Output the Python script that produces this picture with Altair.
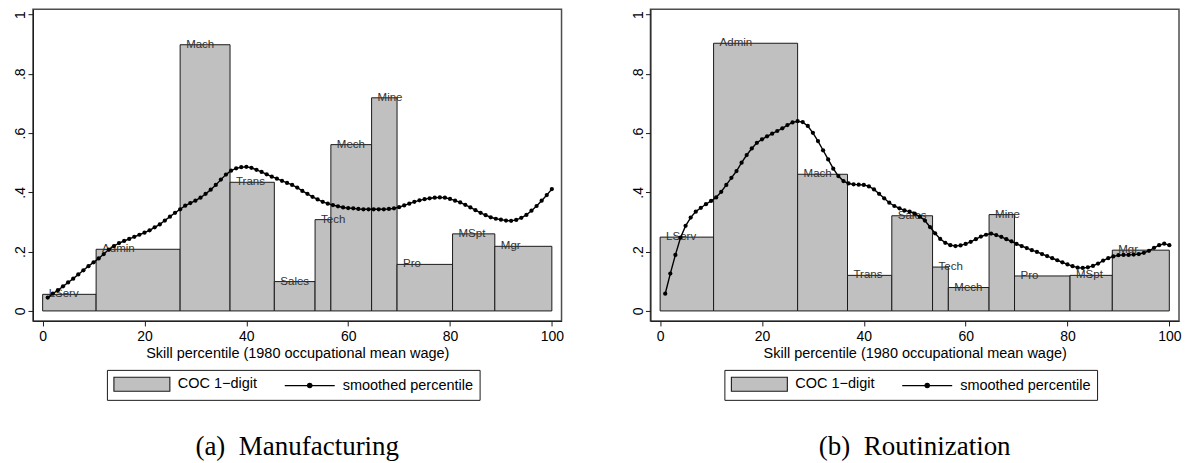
import altair as alt
import pandas as pd

# ---------------- data ----------------
occupations = ["LServ", "Admin", "Mach", "Trans", "Sales", "Tech", "Mech", "Mine", "Pro", "MSpt", "Mgr"]
bin_start = [0.0, 10.5, 27.0, 36.8, 45.5, 53.5, 56.6, 64.6, 69.6, 80.5, 88.8]
bin_end = [10.5, 27.0, 36.8, 45.5, 53.5, 56.6, 64.6, 69.6, 80.5, 88.8, 100.0]
manuf_share = [0.056, 0.208, 0.898, 0.434, 0.099, 0.308, 0.561, 0.719, 0.157, 0.260, 0.218]
routin_share = [0.249, 0.903, 0.461, 0.120, 0.321, 0.148, 0.079, 0.325, 0.118, 0.120, 0.205]

percentile = list(range(1, 101))
manuf_smooth = [
    0.045, 0.058, 0.070, 0.083, 0.096, 0.109, 0.123, 0.137, 0.151, 0.164,
    0.177, 0.192, 0.207, 0.219, 0.229, 0.236, 0.243, 0.250, 0.257, 0.264,
    0.272, 0.282, 0.292, 0.305, 0.318, 0.331, 0.343, 0.355, 0.364, 0.372,
    0.382, 0.395, 0.409, 0.425, 0.443, 0.460, 0.473, 0.481, 0.485, 0.486,
    0.483, 0.476, 0.469, 0.461, 0.453, 0.446, 0.439, 0.432, 0.425, 0.416,
    0.405, 0.395, 0.385, 0.376, 0.368, 0.362, 0.357, 0.353, 0.349, 0.347,
    0.346, 0.344, 0.343, 0.343, 0.343, 0.343, 0.343, 0.344, 0.346, 0.350,
    0.356, 0.362, 0.368, 0.373, 0.377, 0.380, 0.382, 0.383, 0.382, 0.378,
    0.372, 0.366, 0.358, 0.349, 0.340, 0.331, 0.323, 0.316, 0.311, 0.308,
    0.305, 0.304, 0.307, 0.314, 0.324, 0.338, 0.354, 0.372, 0.391, 0.411,
]
routin_smooth = [
    0.058, 0.126, 0.189, 0.247, 0.287, 0.315, 0.335, 0.348, 0.360, 0.371,
    0.383, 0.402, 0.425, 0.449, 0.472, 0.500, 0.526, 0.548, 0.567, 0.579,
    0.589, 0.598, 0.607, 0.616, 0.627, 0.636, 0.640, 0.637, 0.624, 0.601,
    0.573, 0.542, 0.511, 0.480, 0.455, 0.438, 0.430, 0.427, 0.426, 0.425,
    0.420, 0.410, 0.395, 0.380, 0.365, 0.354, 0.346, 0.339, 0.335, 0.328,
    0.318, 0.305, 0.283, 0.262, 0.243, 0.230, 0.222, 0.219, 0.221, 0.226,
    0.233, 0.242, 0.251, 0.257, 0.261, 0.256, 0.250, 0.242, 0.235, 0.226,
    0.219, 0.212, 0.205, 0.199, 0.192, 0.185, 0.178, 0.171, 0.164, 0.157,
    0.151, 0.146, 0.145, 0.147, 0.152, 0.160, 0.170, 0.178, 0.184, 0.188,
    0.189, 0.189, 0.190, 0.192, 0.196, 0.203, 0.213, 0.222, 0.227, 0.222,
]

x_ticks = [0, 20, 40, 60, 80, 100]
y_ticks = [0, 0.2, 0.4, 0.6, 0.8, 1.0]
series = ["COC 1\u2212digit", "smoothed percentile"]
x_title = "Skill percentile (1980 occupational mean wage)"
captions = ["(a)\u2002Manufacturing", "(b)\u2002Routinization"]

# ---------------- styling ----------------
SANS = "Liberation Sans"
SERIF = "Liberation Serif"
BAR_FILL = "#c0c0c0"
INK = "#1a1a1a"

# legend key symbols (custom paths, unit = 7 px for size 196)
rect_path = "M-1,-1H7V1H-1Z"
line_path = ("M-0.143,0H7"
             "M3.743,0A0.314,0.314,0,1,1,3.114,0A0.314,0.314,0,1,1,3.743,0Z")

W, H = 529, 312


def panel(shares, smooth, caption):
    bars_df = pd.DataFrame({"occ": occupations, "start": bin_start,
                            "end": bin_end, "share": shares})
    line_df = pd.DataFrame({"pct": percentile, "val": smooth})
    key_df = pd.DataFrame({"series": series})

    xs = alt.Scale(domain=[-1.9, 101.9], nice=False, zero=False)
    ys = alt.Scale(domain=[-0.0337, 1.0179], nice=False, zero=False)

    xaxis = alt.Axis(values=x_ticks, title=x_title, grid=False, tickSize=5,
                     labelPadding=4, titlePadding=3, labelFontSize=14,
                     titleFontSize=14.5, labelFlush=False)
    yaxis = alt.Axis(values=y_ticks, title=None, grid=False, tickSize=5,
                     labelAngle=270, labelAlign="center",
                     labelBaseline="alphabetic", labelPadding=3,
                     labelFontSize=14,
                     labelExpr="datum.value == 0 ? '0' : (datum.value == 1 ? '1' : replace(format(datum.value, '.1f'), '0.', '.'))")

    bars = alt.Chart(bars_df).mark_rect(
        fill=BAR_FILL, stroke=INK, strokeWidth=1
    ).encode(
        x=alt.X("start:Q", scale=xs, axis=xaxis),
        x2="end:Q",
        y=alt.Y("share:Q", scale=ys, axis=yaxis),
        y2=alt.datum(0),
    )

    labels = alt.Chart(bars_df).mark_text(
        align="left", baseline="middle", dx=6, font=SANS, fontSize=11.5,
        color="#333333"
    ).encode(x="start:Q", y="share:Q", text="occ:N")

    line = alt.Chart(line_df).mark_line(color="black", strokeWidth=1.4).encode(
        x="pct:Q", y="val:Q")
    dots = alt.Chart(line_df).mark_circle(color="black", size=18, opacity=1).encode(
        x="pct:Q", y="val:Q")

    def leg():
        return alt.Legend(
            title=None, orient="none", legendX=74, legendY=361,
            direction="horizontal", fillColor="white", strokeColor=INK,
            padding=6, labelFont=SANS, labelFontSize=14.5, labelColor="black",
            labelOffset=49, columnPadding=20, symbolSize=196,
            symbolStrokeWidth=1.1, symbolOpacity=1,
            labelBaseline="middle", cornerRadius=0,
            labelExpr="datum.label == 'smoothed percentile' ? datum.label + '\u00a0\u00a0\u00a0\u00a0' : datum.label",
        )

    key = alt.Chart(key_df).mark_point(filled=True, clip=True, size=196,
                                       strokeWidth=1.1).encode(
        x=alt.datum(-50),
        y=alt.datum(-5),
        fill=alt.Fill("series:N",
                      scale=alt.Scale(domain=series, range=[BAR_FILL, "#000000"]),
                      legend=leg()),
        stroke=alt.Stroke("series:N",
                          scale=alt.Scale(domain=series, range=[INK, "#000000"]),
                          legend=leg()),
        shape=alt.Shape("series:N",
                        scale=alt.Scale(domain=series, range=[rect_path, line_path]),
                        legend=leg()),
    )

    return alt.layer(bars, labels, line, dots, key).properties(
        width=W, height=H,
        title=alt.TitleParams(text=caption, orient="bottom", anchor="middle",
                              font=SERIF, fontSize=27, fontWeight="normal",
                              color="black", offset=34),
    )


left = panel(manuf_share, manuf_smooth, captions[0])
right = panel(routin_share, routin_smooth, captions[1])

chart = alt.hconcat(left, right, spacing=89, bounds="flush").resolve_scale(
    fill="independent", stroke="independent", shape="independent",
    x="independent", y="independent"
).resolve_legend(
    fill="independent", stroke="independent", shape="independent"
).properties(
    padding={"left": 5, "top": 0, "right": 0, "bottom": 0},
    background="white",
).configure_view(
    stroke="#4d4d4d", strokeWidth=1.5
).configure_axis(
    domainColor=INK, tickColor=INK, labelColor="black", titleColor="black",
    labelFont=SANS, titleFont=SANS, titleFontWeight="normal",
).configure_title(font=SERIF)

chart.save("out.html", embed_options={"renderer": "svg", "actions": False})
